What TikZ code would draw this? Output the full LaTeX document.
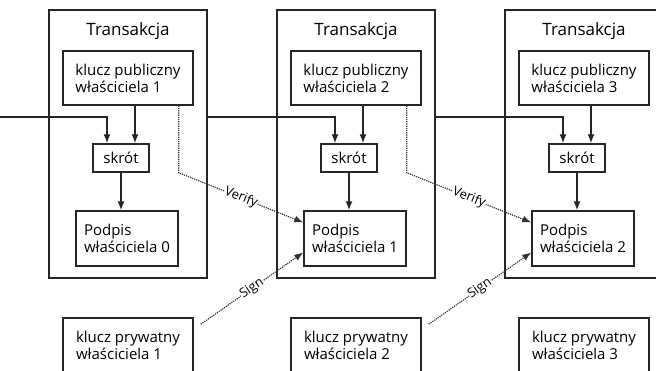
\documentclass[tikz,border=0pt]{standalone}
\usepackage{fontspec}
\setmainfont{Open Sans}
\usetikzlibrary{arrows.meta}

\tikzset{
    txbox/.style={draw=black!85,line width=1.6pt,minimum width=158pt,minimum height=268pt,inner sep=0pt},
    keybox/.style={draw=black!85,line width=1.5pt,minimum width=130pt,minimum height=54pt,
        inner sep=0pt,align=left,font=\fontsize{15}{17}\selectfont},
    sigbox/.style={keybox,minimum width=102pt,minimum height=55pt},
    hashbox/.style={draw=black!85,line width=1.5pt,minimum width=56pt,minimum height=28pt,
        inner sep=0pt,font=\fontsize{15}{17}\selectfont},
    arrow/.style={-{Latex[length=9pt,width=7pt]},line width=1.3pt,black!85},
    link/.style={-{Latex[length=9pt,width=7pt]},line width=1.2pt,black!80,densely dotted},
    tag/.style={sloped,fill=white,inner sep=0.5pt,text=black,font=\fontsize{13}{15}\selectfont}
}

\begin{document}
\begin{tikzpicture}[x=1pt,y=-1pt]
    \useasboundingbox (0,0) rectangle (656,370);
    \clip (0,0) rectangle (656,370);

    \coordinate (prev) at (0,117);

    % three transactions
    \foreach \i/\n in {0/1,1/2,2/3}{
        \node[txbox] (tx\i) at (128+228*\i,144) {};
        \node[font=\fontsize{17}{19}\selectfont] (title\i) at (128+228*\i,31) {Transakcja};
        \node[keybox] (pub\i) at (128+228*\i,78) {klucz publiczny\\właściciela \n};
        \node[hashbox] (hash\i) at (121+228*\i,158) {skrót};
        \node[sigbox] (sig\i) at (127+228*\i,238.5) {Podpis\\właściciela \i};
        \node[keybox] (priv\i) at (128+228*\i,345) {klucz prywatny\\właściciela \n};

        \draw[arrow] ([xshift=14pt]hash\i.north |- pub\i.south) -- ([xshift=14pt]hash\i.north);
        \draw[arrow] (hash\i.south) -- (hash\i.south |- sig\i.north);
    }

    % hash inputs
    \draw[arrow] (prev) -| ([xshift=-14pt]hash0.north);
    \foreach \i/\j in {0/1,1/2}{
        \draw[arrow] (tx\i.east |- prev) -| ([xshift=-14pt]hash\j.north);
    }

    % verify and sign
    \foreach \i/\j in {0/1,1/2}{
        \draw[link] ([xshift=-15pt]pub\i.south east)
            -- ([xshift=-15pt]pub\i.south east |- hash\i.south)
            -- node[tag]{Verify} ([yshift=16pt]sig\j.west);
        \draw[link] ([xshift=7pt,yshift=-7pt]priv\i.north east)
            -- node[tag]{Sign} ([yshift=-14pt]sig\j.west);
    }

\end{tikzpicture}
\end{document}
